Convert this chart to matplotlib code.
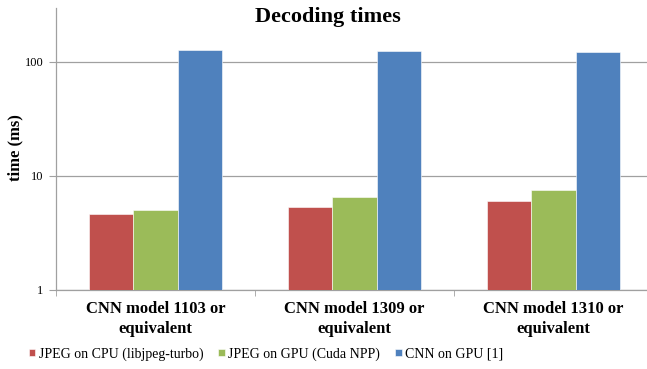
import matplotlib

matplotlib.use("Agg")
import matplotlib.pyplot as plt  # noqa: E402
import numpy as np  # noqa: E402

# Datos (ms, escala logarítmica)
categories = ["CNN model 1103 or\nequivalent",
              "CNN model 1309 or\nequivalent",
              "CNN model 1310 or\nequivalent"]
series_names = ["JPEG on CPU (libjpeg-turbo)",
                "JPEG on GPU (Cuda NPP)",
                "CNN on GPU [1]"]
cpu_jpeg = [4.6, 5.3, 6.0]
gpu_jpeg = [5.0, 6.5, 7.55]
gpu_cnn = [127, 124, 121]
y_ticks = [1, 10, 100]

colors = ["#c0504d", "#9bbb59", "#4f81bd"]

plt.rcParams["font.family"] = ["Liberation Serif", "DejaVu Serif"]

fig = plt.figure(figsize=(6.47, 3.69), dpi=100)
ax = fig.add_axes([56 / 647, 1 - 290 / 369, (653 - 56) / 647, (290 - 8) / 369])

x = np.arange(len(categories))
width = 0.222
for i, (values, name) in enumerate(zip([cpu_jpeg, gpu_jpeg, gpu_cnn], series_names)):
    ax.bar(x + (i - 1) * width, values, width, color=colors[i], label=name,
           edgecolor="white", linewidth=0.4, zorder=3)

ax.set_yscale("log")
ax.set_ylim(1, 10 ** 2.47)
ax.set_xlim(-0.5, len(categories) - 0.5)
ax.set_yticks(y_ticks)
ax.set_yticklabels([str(v) for v in y_ticks], fontsize=9)
ax.yaxis.set_minor_locator(matplotlib.ticker.NullLocator())
ax.grid(axis="y", color="#a0a0a0", linewidth=0.9, zorder=0)

ax.set_xticks(x)
ax.set_xticklabels(categories, fontsize=12, fontweight="bold", linespacing=1.35)
ax.tick_params(axis="x", length=0, pad=8)
ax.set_xticks(np.arange(len(categories) + 1) - 0.5, minor=True)
ax.tick_params(axis="x", which="minor", length=4, color="#a0a0a0")
ax.tick_params(axis="y", length=5, color="#a0a0a0", pad=4)

for side in ["top", "right"]:
    ax.spines[side].set_visible(False)
for side in ["left", "bottom"]:
    ax.spines[side].set_color("#a0a0a0")
    ax.spines[side].set_linewidth(0.9)

ax.set_ylabel("time (ms)", fontsize=12, fontweight="bold")
ax.yaxis.set_label_coords((23 - 56) / 597, (290 - 148) / 282)

fig.text(328 / 647, 1 - 17 / 369, "Decoding times", fontsize=16, fontweight="bold",
         ha="center", va="center")

fig.legend(loc="center", bbox_to_anchor=(266 / 647, 1 - 354 / 369), ncol=3,
           fontsize=10, frameon=False, handlelength=0.45, handleheight=0.45,
           handletextpad=0.25, columnspacing=1.1, borderpad=0, borderaxespad=0)

fig.savefig("out.png", dpi=100)
plt.close(fig)
